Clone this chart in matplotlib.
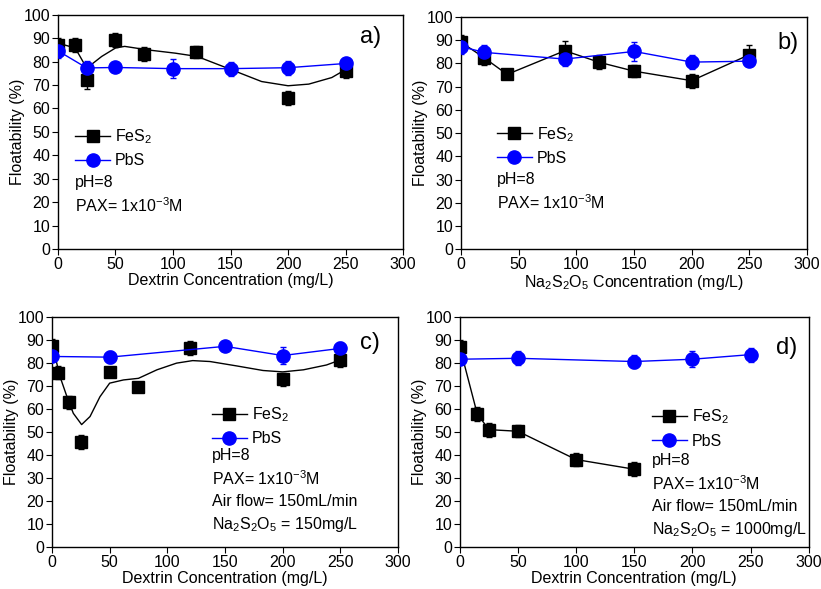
import numpy as np
from matplotlib import pyplot as plt

plt.rcParams['font.family'] = ['Liberation Sans', 'DejaVu Sans']
plt.rcParams['mathtext.fontset'] = 'custom'
plt.rcParams['mathtext.rm'] = 'Liberation Sans'
plt.rcParams['mathtext.it'] = 'Liberation Sans'
plt.rcParams['mathtext.default'] = 'regular'

# panel a) dextrin
a_fes2_x = [0, 15, 25, 50, 75, 120, 200, 250]
a_fes2_y = [87.2, 87.0, 72.0, 89.3, 83.2, 84.0, 64.4, 76.1]
a_fes2_err = [3, 3, 3.5, 3, 3, 2.5, 3, 3]
a_pbs_x = [0, 25, 50, 100, 150, 200, 250]
a_pbs_y = [84.6, 77.3, 77.5, 77.0, 77.0, 77.4, 79.2]
a_pbs_err = [3, 3, 1.5, 4, 3, 3, 2.5]
a_fit_x = [0, 15, 25, 38, 50, 58, 78, 102, 121, 151, 177, 200, 218, 238, 250]
a_fit_y = [87.9, 85.8, 77.2, 82.2, 85.8, 86.5, 85.0, 83.6, 82.2, 76.5, 71.5, 69.7, 70.4, 73.2, 76.6]

# panel b) Na2S2O5
b_fes2_x = [0, 20, 40, 90, 120, 150, 200, 250]
b_fes2_y = [89.2, 82.5, 75.3, 85.5, 80.5, 76.7, 72.6, 83.8]
b_fes2_err = [3, 3, 2, 4, 3, 2.5, 3, 4]
b_pbs_x = [0, 20, 90, 150, 200, 250]
b_pbs_y = [87.3, 84.8, 81.9, 85.2, 80.6, 81.0]
b_pbs_err = [3, 3, 3, 4, 3, 2]

# panel c) dextrin + Na2S2O5 150 mg/L
c_fes2_x = [0, 5, 15, 25, 50, 75, 120, 200, 250]
c_fes2_y = [87.2, 75.8, 62.8, 45.5, 75.9, 69.5, 86.4, 72.8, 81.3]
c_fes2_err = [3, 3, 3, 3, 2, 2, 3, 3, 3]
c_pbs_x = [0, 50, 150, 200, 250]
c_pbs_y = [82.8, 82.5, 87.2, 83.2, 86.3]
c_pbs_err = [2, 2.5, 2, 3.5, 3]
c_fit_x = [0, 1, 7, 13, 18.5, 25.7, 33, 41.6, 50, 62, 75, 91, 108, 122, 137, 160, 183, 200, 218, 238, 250]
c_fit_y = [87, 86.4, 74, 65.3, 58.1, 53.2, 56.7, 65.3, 71.2, 72.6, 73.3, 77, 79.9, 81, 80.6, 78.7, 76.7, 76.1, 77, 79.1, 81.3]

# panel d) dextrin + Na2S2O5 1000 mg/L
d_fes2_x = [0, 15, 25, 50, 100, 150]
d_fes2_y = [87.0, 57.9, 51.0, 50.3, 38.0, 33.8]
d_fes2_err = [3, 3, 3, 2.5, 3, 3]
d_pbs_x = [0, 50, 150, 200, 250]
d_pbs_y = [81.6, 82.0, 80.6, 81.6, 83.6]
d_pbs_err = [2, 3, 3, 3.5, 3]

na2s2o5 = 'Na$_2$S$_2$O$_5$'
fs = 11.5


def draw(ax, fx, fy, fe, px, py, pe, label, label_xy, xlabel, notes, leg_xy, note_xy,
         fit=None, fes_line=True):
    ax.errorbar(fx, fy, yerr=fe, fmt='none', ecolor='black', elinewidth=1, capsize=2.5, capthick=1, zorder=2)
    ax.errorbar(px, py, yerr=pe, fmt='none', ecolor='blue', elinewidth=1, capsize=2.5, capthick=1, zorder=2)
    if fit is not None:
        ax.plot(fit[0], fit[1], color='black', lw=1, zorder=3)
    ax.plot(fx, fy, color='black', lw=1 if fes_line else 0, marker='s', ms=9, zorder=4)
    ax.plot(px, py, color='blue', lw=1, marker='o', ms=9.5, zorder=4)
    # legend handles
    h1, = ax.plot([], [], color='black', lw=1, marker='s', ms=9)
    h2, = ax.plot([], [], color='blue', lw=1, marker='o', ms=9.5)
    ax.legend([h1, h2], ['FeS$_2$', 'PbS'], loc='upper left', bbox_to_anchor=leg_xy,
              frameon=False, fontsize=fs, handlelength=2.2, handletextpad=0.3,
              borderpad=0, borderaxespad=0, labelspacing=0.45)
    for i, t in enumerate(notes):
        ax.text(note_xy[0], note_xy[1] - i * 10, t, fontsize=fs, va='center', ha='left')
    ax.text(label_xy[0], label_xy[1], label, transform=ax.transAxes, fontsize=17, ha='center', va='center')
    ax.set_xlim(0, 300)
    ax.set_ylim(0, 100)
    ax.set_xticks(np.arange(0, 301, 50))
    ax.set_yticks(np.arange(0, 101, 10))
    ax.tick_params(direction='out', length=4, labelsize=fs, pad=1.5)
    ax.set_xlabel(xlabel, fontsize=fs, labelpad=1)
    ax.set_ylabel('Floatability (%)', fontsize=fs, labelpad=-1)
    for s in ax.spines.values():
        s.set_linewidth(1)


fig = plt.figure(figsize=(8.21, 5.89), dpi=100)
ax_a = fig.add_axes([0.0706, 0.577, 0.4204, 0.398])
ax_b = fig.add_axes([0.5615, 0.577, 0.4215, 0.394])
ax_c = fig.add_axes([0.0633, 0.0713, 0.4215, 0.3907])
ax_d = fig.add_axes([0.560, 0.0713, 0.425, 0.3907])

base = ['pH=8', 'PAX= 1x10$^{-3}$M']
draw(ax_a, a_fes2_x, a_fes2_y, a_fes2_err, a_pbs_x, a_pbs_y, a_pbs_err, 'a)', (0.905, 0.905),
     'Dextrin Concentration (mg/L)', base, (0.05, 0.52), (15, 28.5),
     fit=(a_fit_x, a_fit_y), fes_line=False)
draw(ax_b, b_fes2_x, b_fes2_y, b_fes2_err, b_pbs_x, b_pbs_y, b_pbs_err, 'b)', (0.945, 0.888),
     na2s2o5 + ' Concentration (mg/L)', base, (0.103, 0.535), (31, 30))
draw(ax_c, c_fes2_x, c_fes2_y, c_fes2_err, c_pbs_x, c_pbs_y, c_pbs_err, 'c)', (0.92, 0.887),
     'Dextrin Concentration (mg/L)',
     base + ['Air flow= 150mL/min', na2s2o5 + ' = 150mg/L'], (0.462, 0.615), (139, 39.6),
     fit=(c_fit_x, c_fit_y), fes_line=False)
draw(ax_d, d_fes2_x, d_fes2_y, d_fes2_err, d_pbs_x, d_pbs_y, d_pbs_err, 'd)', (0.937, 0.865),
     'Dextrin Concentration (mg/L)',
     base + ['Air flow= 150mL/min', na2s2o5 + ' = 1000mg/L'], (0.55, 0.605), (165.5, 37.5))

fig.savefig('out.png', dpi=100)
